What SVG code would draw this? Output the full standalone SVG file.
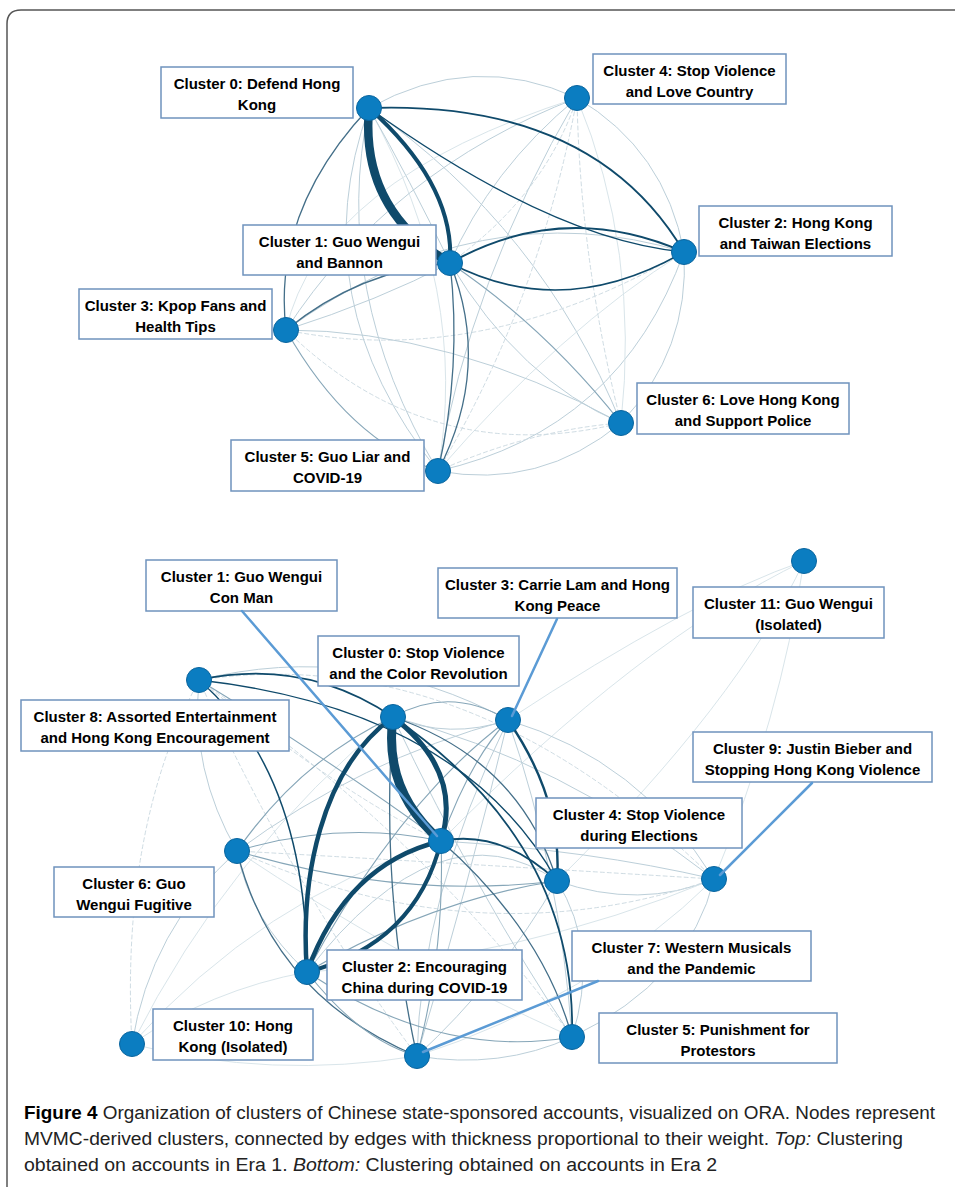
<svg xmlns="http://www.w3.org/2000/svg" width="955" height="1187" viewBox="0 0 955 1187">
<style>
.bg{fill:#ffffff}
.frame{fill:none;stroke:#555;stroke-width:1.5}
path{fill:none;stroke-linecap:round}
.l0{stroke:#d9e5ea;stroke-width:1}
.l0d{stroke:#cfdce3;stroke-width:1;stroke-dasharray:4 3}
.l1{stroke:#bccfd9;stroke-width:1}
.l2{stroke:#86a6b8;stroke-width:1.1}
.m{stroke:#446f89;stroke-width:1.3}
.d{stroke:#0f4a6b}
.lead{stroke:#5b9bd5;stroke-width:2.5}
.node{fill:#0b7dc1;stroke:#0a659e;stroke-width:1}
.box{fill:#fff;stroke:#6f93bd;stroke-width:1.5}
.lbl{font-family:"Liberation Sans",Arial,sans-serif;font-weight:bold;font-size:15px;fill:#000;text-anchor:middle}
.cap{font-family:"Liberation Sans",Arial,sans-serif;font-size:18px;fill:#222}
</style>
<rect class="bg" x="0" y="0" width="955" height="1187"/>
<path class="frame" d="M7 1187 L7 24 Q7 10 21 10 L956 10"/>

<g id="connectors">
<!-- top faint web -->
<path class="l1" d="M369 108 Q473 50 577 98"/>
<path class="l1" d="M369 108 Q330 290 438 471"/>
<path class="l0" d="M369 108 Q470 290 438 471"/>
<path class="l1" d="M369 108 Q542 228 621 423"/>
<path class="l1" d="M369 108 Q410 180 450 263"/>
<path class="l1" d="M450 263 Q490 170 577 98"/>
<path class="l0d" d="M450 263 Q545 195 577 98"/>
<path class="l1" d="M684 252 Q665 150 577 98"/>
<path class="l1" d="M684 252 Q690 350 621 423"/>
<path class="l1" d="M684 252 Q620 430 438 471"/>
<path class="l0" d="M684 252 Q560 330 438 471"/>
<path class="l1" d="M684 252 Q480 190 286 330"/>
<path class="l0d" d="M684 252 Q480 370 286 330"/>
<path class="l1" d="M286 330 Q390 170 577 98"/>
<path class="l0" d="M286 330 Q320 180 577 98"/>
<path class="l2" d="M286 330 Q348 440 438 471"/>
<path class="l1" d="M286 330 Q450 330 621 423"/>
<path class="l0d" d="M286 330 Q430 470 621 423"/>
<path class="l0d" d="M577 98 Q540 300 438 471"/>
<path class="l1" d="M577 98 Q470 280 438 471"/>
<path class="l0" d="M577 98 Q640 250 621 423"/>
<path class="l0d" d="M577 98 Q580 260 621 423"/>
<path class="l1" d="M438 471 Q540 490 621 423"/>
<path class="l0d" d="M438 471 Q530 430 621 423"/>
<path class="l1" d="M286 330 Q380 300 450 263"/>
<path class="l1" d="M450 263 Q520 380 621 423"/>
<path class="l1" d="M369 108 Q300 300 438 471"/>
<!-- top medium / dark -->
<path class="m" d="M369 108 Q272 211 286 330"/>
<path class="m" d="M286 330 Q360 270 450 263"/>
<path class="l2" d="M450 263 Q545 327 621 423"/>
<path class="m" d="M450 263 Q462 367 438 471"/>
<path class="m" d="M450 263 Q492 367 438 471"/>
<path class="d" stroke-width="1.8" d="M369 108 Q594 100 684 252"/>
<path class="d" stroke-width="1.4" d="M369 108 Q553 240 684 252"/>
<path class="d" stroke-width="2" d="M450 263 Q563 199 684 252"/>
<path class="d" stroke-width="1.6" d="M450 263 Q563 322 684 252"/>
<path class="d" stroke-width="4" d="M369 108 Q455 185 450 263"/>
<path class="d" stroke-width="8.5" d="M369 108 Q360 210 450 263"/>

<!-- bottom faint web -->
<path class="l0" d="M804 561 Q690 600 508 720"/>
<path class="l0" d="M804 561 Q740 700 557 881"/>
<path class="l0" d="M804 561 Q780 720 714 879"/>
<path class="l0" d="M804 561 Q640 640 441 841"/>
<path class="l1" d="M714 879 Q640 760 508 720"/>
<path class="l1" d="M714 879 Q560 760 393 717"/>
<path class="l1" d="M714 879 Q590 850 441 841"/>
<path class="l1" d="M714 879 Q640 910 557 881"/>
<path class="l1" d="M714 879 Q690 980 572 1037"/>
<path class="l0" d="M714 879 Q520 960 307 972"/>
<path class="l0" d="M714 879 Q590 1000 417 1056"/>
<path class="l0d" d="M714 879 Q480 960 237 851"/>
<path class="l0d" d="M714 879 Q470 640 199 680"/>
<path class="l1" d="M132 1044 Q150 930 237 851"/>
<path class="l0" d="M132 1044 Q210 990 307 972"/>
<path class="l0d" d="M132 1044 Q120 830 199 680"/>
<path class="l0" d="M132 1044 Q230 850 393 717"/>
<path class="l0" d="M132 1044 Q260 900 441 841"/>
<path class="l0" d="M132 1044 Q270 1080 417 1056"/>
<path class="l1" d="M572 1037 Q600 950 557 881"/>
<path class="l1" d="M572 1037 Q560 870 508 720"/>
<path class="l1" d="M572 1037 Q500 1070 417 1056"/>
<path class="l0" d="M572 1037 Q400 960 237 851"/>
<path class="l1" d="M417 1056 Q470 880 508 720"/>
<path class="l1" d="M417 1056 Q500 980 557 881"/>
<path class="l1" d="M199 680 Q190 770 237 851"/>
<path class="l1" d="M199 680 Q360 640 508 720"/>
<path class="l0d" d="M199 680 Q300 900 417 1056"/>
<path class="l0d" d="M199 680 Q420 830 572 1037"/>
<path class="l1" d="M237 851 Q360 760 508 720"/>
<path class="l1" d="M237 851 Q250 920 307 972"/>
<path class="l0d" d="M237 851 Q400 860 714 879"/>
<path class="l1" d="M393 717 Q450 740 508 720"/>
<path class="l0d" d="M199 680 Q350 800 441 841"/>
<path class="l1" d="M307 972 Q440 800 557 881"/>
<path class="l1" d="M393 717 Q480 900 572 1037"/>
<path class="l1" d="M508 720 Q420 900 417 1056"/>
<!-- bottom medium -->
<path class="l2" d="M237 851 Q340 820 441 841"/>
<path class="l2" d="M237 851 Q400 900 557 881"/>
<path class="l2" d="M237 851 Q300 760 393 717"/>
<path class="m" d="M237 851 Q273 996 417 1056"/>
<path class="l2" d="M307 972 Q440 1060 572 1037"/>
<path class="l2" d="M307 972 Q360 1040 417 1056"/>
<path class="l2" d="M307 972 Q400 800 508 720"/>
<path class="l2" d="M307 972 Q430 900 557 881"/>
<path class="l2" d="M393 717 Q450 685 508 720"/>
<path class="l2" d="M441 841 Q470 760 508 720"/>
<path class="l2" d="M441 841 Q445 950 417 1056"/>
<path class="m" d="M441 841 Q543 931 572 1037"/>
<path class="l2" d="M199 680 Q330 760 441 841"/>
<path class="m" d="M393 717 Q520 760 557 881"/>
<path class="m" d="M393 717 Q380 890 417 1056"/>
<!-- bottom dark -->
<path class="d" stroke-width="1.8" d="M199 680 Q304 657 393 717"/>
<path class="d" stroke-width="1.4" d="M199 680 Q462 710 557 881"/>
<path class="d" stroke-width="1.5" d="M199 680 Q307 774 307 972"/>
<path class="d" stroke-width="2.4" d="M508 720 Q563 800 557 881"/>
<path class="d" stroke-width="1.8" d="M441 841 Q501 829 557 881"/>
<path class="d" stroke-width="1.8" d="M393 717 Q577 843 572 1037"/>
<path class="d" stroke-width="4.5" d="M393 717 C320 770 300 880 307 972"/>
<path class="d" stroke-width="4.5" d="M441 841 Q346 864 307 972"/>
<path class="d" stroke-width="4" d="M441 841 Q416 944 307 972"/>
<path class="d" stroke-width="5" d="M393 717 Q463 771 441 841"/>
<path class="d" stroke-width="9" d="M393 717 Q383 791 441 841"/>
</g>

<g id="top-cluster-0"><circle class="node" cx="369" cy="108" r="12.5"/><rect class="box" x="161" y="67" width="192" height="51"/><text class="lbl" x="257" y="89">Cluster 0: Defend Hong</text><text class="lbl" x="257" y="110">Kong</text></g>
<g id="top-cluster-4"><circle class="node" cx="577" cy="98" r="12.5"/><rect class="box" x="593" y="54" width="193" height="50"/><text class="lbl" x="689.5" y="76">Cluster 4: Stop Violence</text><text class="lbl" x="689.5" y="97">and Love Country</text></g>
<g id="top-cluster-2"><circle class="node" cx="684" cy="252" r="12.5"/><rect class="box" x="699" y="206" width="193" height="50"/><text class="lbl" x="795.5" y="228">Cluster 2: Hong Kong</text><text class="lbl" x="795.5" y="249">and Taiwan Elections</text></g>
<g id="top-cluster-1"><rect class="box" x="243" y="225" width="193" height="50"/><text class="lbl" x="339.5" y="247">Cluster 1: Guo Wengui</text><text class="lbl" x="339.5" y="268">and Bannon</text><circle class="node" cx="450" cy="263" r="12.5"/></g>
<g id="top-cluster-3"><circle class="node" cx="286" cy="330" r="12.5"/><rect class="box" x="79" y="289" width="193" height="50"/><text class="lbl" x="175.5" y="311">Cluster 3: Kpop Fans and</text><text class="lbl" x="175.5" y="332">Health Tips</text></g>
<g id="top-cluster-6"><circle class="node" cx="621" cy="423" r="12.5"/><rect class="box" x="637" y="383" width="212" height="51"/><text class="lbl" x="743" y="405">Cluster 6: Love Hong Kong</text><text class="lbl" x="743" y="426">and Support Police</text></g>
<g id="top-cluster-5"><circle class="node" cx="438" cy="471" r="12.5"/><rect class="box" x="231" y="440" width="193" height="51"/><text class="lbl" x="327.5" y="462">Cluster 5: Guo Liar and</text><text class="lbl" x="327.5" y="483">COVID-19</text></g>

<g id="bottom-cluster-8"><circle class="node" cx="199" cy="680" r="12.5"/><rect class="box" x="21" y="700" width="268" height="51"/><text class="lbl" x="155" y="722">Cluster 8: Assorted Entertainment</text><text class="lbl" x="155" y="743">and Hong Kong Encouragement</text></g>
<g id="bottom-cluster-0"><circle class="node" cx="393" cy="717" r="12.5"/><rect class="box" x="318" y="636" width="201" height="50"/><text class="lbl" x="418.5" y="658">Cluster 0: Stop Violence</text><text class="lbl" x="418.5" y="679">and the Color Revolution</text></g>
<g id="bottom-cluster-3"><circle class="node" cx="508" cy="720" r="12.5"/><rect class="box" x="438" y="568" width="239" height="50"/><text class="lbl" x="557.5" y="590">Cluster 3: Carrie Lam and Hong</text><text class="lbl" x="557.5" y="611">Kong Peace</text></g>
<g id="bottom-cluster-1"><circle class="node" cx="441" cy="841" r="12.5"/><rect class="box" x="146" y="560" width="191" height="51"/><text class="lbl" x="241.5" y="582">Cluster 1: Guo Wengui</text><text class="lbl" x="241.5" y="603">Con Man</text></g>
<g id="bottom-cluster-11"><circle class="node" cx="804" cy="561" r="12.5"/><rect class="box" x="693" y="587" width="191" height="51"/><text class="lbl" x="788.5" y="609">Cluster 11: Guo Wengui</text><text class="lbl" x="788.5" y="630">(Isolated)</text></g>
<g id="bottom-cluster-9"><circle class="node" cx="714" cy="879" r="12.5"/><rect class="box" x="693" y="732" width="239" height="50"/><text class="lbl" x="812.5" y="754">Cluster 9: Justin Bieber and</text><text class="lbl" x="812.5" y="775">Stopping Hong Kong Violence</text></g>
<g id="bottom-cluster-4"><rect class="box" x="536" y="798" width="206" height="50"/><text class="lbl" x="639" y="820">Cluster 4: Stop Violence</text><text class="lbl" x="639" y="841">during Elections</text><circle class="node" cx="557" cy="881" r="12.5"/></g>
<g id="bottom-cluster-6"><circle class="node" cx="237" cy="851" r="12.5"/><rect class="box" x="54" y="867" width="160" height="50"/><text class="lbl" x="134" y="889">Cluster 6: Guo</text><text class="lbl" x="134" y="910">Wengui Fugitive</text></g>
<g id="bottom-cluster-2"><circle class="node" cx="307" cy="972" r="12.5"/><rect class="box" x="327" y="950" width="195" height="50"/><text class="lbl" x="424.5" y="972">Cluster 2: Encouraging</text><text class="lbl" x="424.5" y="993">China during COVID-19</text></g>
<g id="bottom-cluster-7"><circle class="node" cx="417" cy="1056" r="12.5"/><rect class="box" x="572" y="931" width="239" height="50"/><text class="lbl" x="691.5" y="953">Cluster 7: Western Musicals</text><text class="lbl" x="691.5" y="974">and the Pandemic</text></g>
<g id="bottom-cluster-5"><circle class="node" cx="572" cy="1037" r="12.5"/><rect class="box" x="599" y="1013" width="238" height="50"/><text class="lbl" x="718" y="1035">Cluster 5: Punishment for</text><text class="lbl" x="718" y="1056">Protestors</text></g>
<g id="bottom-cluster-10"><circle class="node" cx="132" cy="1044" r="12.5"/><rect class="box" x="153" y="1009" width="160" height="51"/><text class="lbl" x="233" y="1031">Cluster 10: Hong</text><text class="lbl" x="233" y="1052">Kong (Isolated)</text></g>

<g id="leaders">
<path class="lead" d="M242 611 L437 836"/>
<path class="lead" d="M557 619 L512 716"/>
<path class="lead" d="M812 783 L720 875"/>
<path class="lead" d="M598 981 L423 1052"/>
</g>

<g id="caption">
<text class="cap" x="24" y="1119" textLength="911" lengthAdjust="spacingAndGlyphs"><tspan font-weight="bold" fill="#000">Figure 4</tspan>  Organization of clusters of Chinese state-sponsored accounts, visualized on ORA. Nodes represent</text>
<text class="cap" x="24" y="1145" textLength="879" lengthAdjust="spacingAndGlyphs">MVMC-derived clusters, connected by edges with thickness proportional to their weight. <tspan font-style="italic">Top:</tspan> Clustering</text>
<text class="cap" x="24" y="1171" textLength="693" lengthAdjust="spacingAndGlyphs">obtained on accounts in Era 1. <tspan font-style="italic">Bottom:</tspan> Clustering obtained on accounts in Era 2</text>
</g>
</svg>
